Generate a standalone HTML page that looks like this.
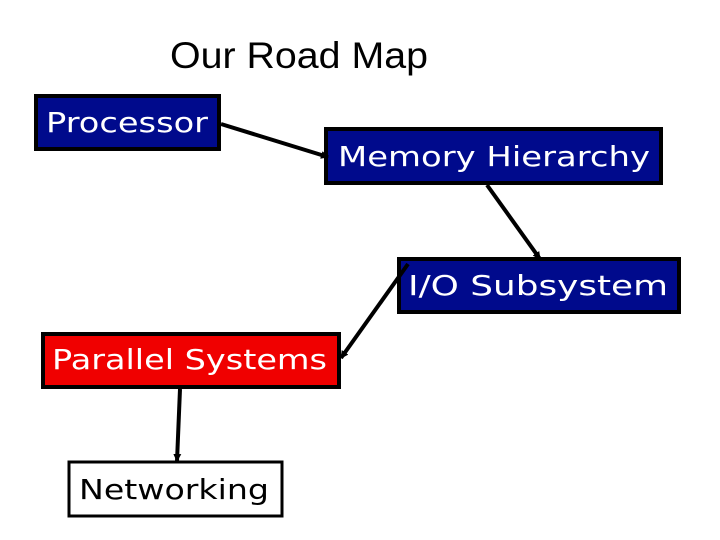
<!DOCTYPE html>
<html><head><meta charset="utf-8"><style>
html,body{margin:0;padding:0;background:#fff;width:720px;height:540px;overflow:hidden}
svg{display:block}
.t{font-family:"DejaVu Sans","Liberation Sans",sans-serif;font-size:28px}
</style></head><body>
<svg width="720" height="540" viewBox="0 0 720 540" xmlns="http://www.w3.org/2000/svg">
<defs><marker id="a" markerWidth="8" markerHeight="8" refX="7" refY="4" orient="auto" markerUnits="userSpaceOnUse"><path d="M0,0 L8,4 L0,8 z" fill="#000"/></marker></defs>
<text x="299" y="68" text-anchor="middle" font-family="'Liberation Sans',sans-serif" font-size="37" fill="#000" textLength="258" lengthAdjust="spacingAndGlyphs">Our Road Map</text>
<rect x="36" y="96" width="183" height="53" fill="#000a8c" stroke="#000" stroke-width="4"/>
<text class="t" x="46" y="132" fill="#fff" textLength="162" lengthAdjust="spacingAndGlyphs">Processor</text>
<rect x="326" y="129" width="335" height="54" fill="#000a8c" stroke="#000" stroke-width="4"/>
<text class="t" x="338" y="166" fill="#fff" textLength="312" lengthAdjust="spacingAndGlyphs">Memory Hierarchy</text>
<rect x="399" y="259" width="280" height="53" fill="#000a8c" stroke="#000" stroke-width="4"/>
<text class="t" x="408" y="295" fill="#fff" textLength="260" lengthAdjust="spacingAndGlyphs">I/O Subsystem</text>
<rect x="43" y="334" width="296" height="53" fill="#f00000" stroke="#000" stroke-width="4"/>
<text class="t" x="52" y="369" fill="#fff" textLength="275" lengthAdjust="spacingAndGlyphs">Parallel Systems</text>
<rect x="69" y="462" width="213" height="54" fill="#fff" stroke="#000" stroke-width="3"/>
<text class="t" x="79" y="499" fill="#000" textLength="190" lengthAdjust="spacingAndGlyphs">Networking</text>
<g stroke="#000" stroke-width="4" fill="none" marker-end="url(#a)">
<line x1="221" y1="124" x2="328" y2="157"/>
<line x1="487" y1="185" x2="540" y2="259"/>
<line x1="408" y1="264" x2="341" y2="358"/>
<line x1="180" y1="389" x2="177" y2="461"/>
</g>
</svg>
</body></html>
